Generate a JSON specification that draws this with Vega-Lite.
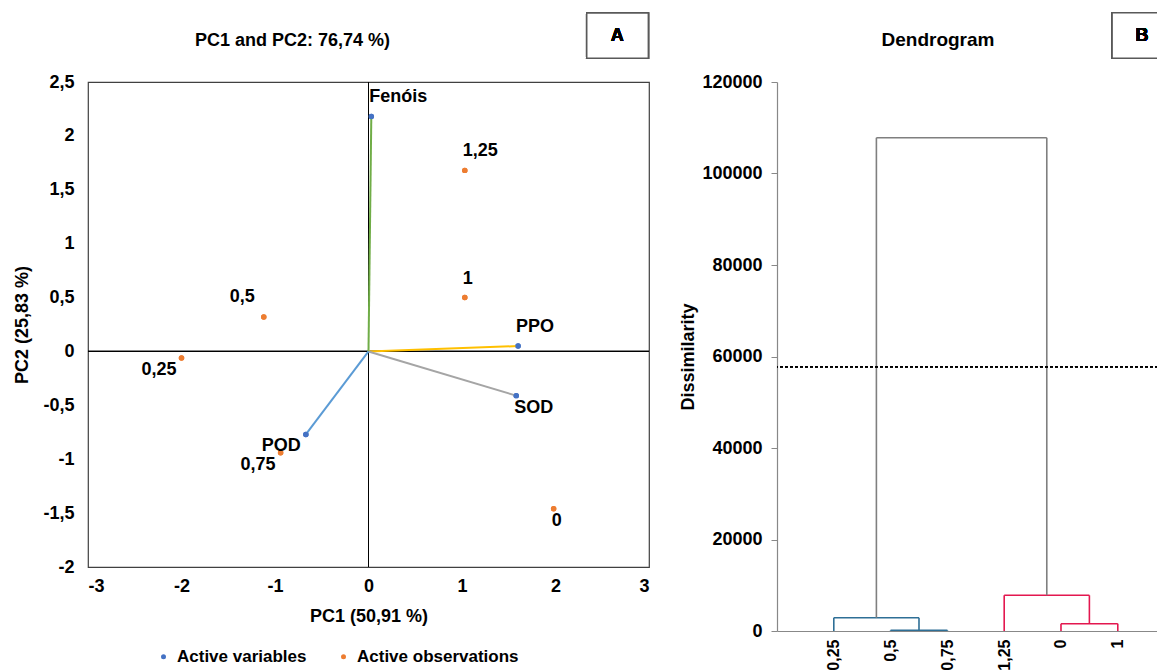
{
  "$schema": "https://vega.github.io/schema/vega-lite/v6.json",
  "padding": {"left": 13, "top": 11, "right": 0, "bottom": 0},
  "spacing": 28,
  "background": "#ffffff",
  "resolve": {"scale": {"color": "independent", "stroke": "independent"}, "legend": {"color": "independent", "stroke": "independent"}},
  "datasets": {
    "pca": [
      {"label": "Fenóis", "kind": "Active variables", "pc1": 0.03, "pc2": 2.18},
      {"label": "PPO", "kind": "Active variables", "pc1": 1.60, "pc2": 0.05},
      {"label": "SOD", "kind": "Active variables", "pc1": 1.58, "pc2": -0.41},
      {"label": "POD", "kind": "Active variables", "pc1": -0.67, "pc2": -0.77},
      {"label": "1,25", "kind": "Active observations", "pc1": 1.03, "pc2": 1.68},
      {"label": "1", "kind": "Active observations", "pc1": 1.03, "pc2": 0.50},
      {"label": "0,5", "kind": "Active observations", "pc1": -1.12, "pc2": 0.32},
      {"label": "0,25", "kind": "Active observations", "pc1": -2.00, "pc2": -0.06},
      {"label": "0,75", "kind": "Active observations", "pc1": -0.94, "pc2": -0.94},
      {"label": "0", "kind": "Active observations", "pc1": 1.98, "pc2": -1.46}
    ],
    "dendro": [
      {"x": 2, "x2": 2, "y": 0, "y2": 150, "grp": "c1"},
      {"x": 3, "x2": 3, "y": 0, "y2": 150, "grp": "c1"},
      {"x": 2, "x2": 3, "y": 150, "y2": 150, "grp": "c1"},
      {"x": 1, "x2": 1, "y": 0, "y2": 2900, "grp": "c1"},
      {"x": 2.5, "x2": 2.5, "y": 150, "y2": 2900, "grp": "c1"},
      {"x": 1, "x2": 2.5, "y": 2900, "y2": 2900, "grp": "c1"},
      {"x": 5, "x2": 5, "y": 0, "y2": 1600, "grp": "c2"},
      {"x": 6, "x2": 6, "y": 0, "y2": 1600, "grp": "c2"},
      {"x": 5, "x2": 6, "y": 1600, "y2": 1600, "grp": "c2"},
      {"x": 4, "x2": 4, "y": 0, "y2": 7800, "grp": "c2"},
      {"x": 5.5, "x2": 5.5, "y": 1600, "y2": 7800, "grp": "c2"},
      {"x": 4, "x2": 5.5, "y": 7800, "y2": 7800, "grp": "c2"},
      {"x": 1.75, "x2": 1.75, "y": 2900, "y2": 107800, "grp": "root"},
      {"x": 4.75, "x2": 4.75, "y": 7800, "y2": 107800, "grp": "root"},
      {"x": 1.75, "x2": 4.75, "y": 107800, "y2": 107800, "grp": "root"}
    ]
  },
  "hconcat": [
    {
      "width": 561,
      "height": 485,
      "view": {"stroke": "#404040", "strokeWidth": 1.2},
      "title": {"text": "PC1 and PC2: 76,74 %)", "anchor": "middle", "frame": "group", "dx": -76, "offset": -47, "baseline": "middle", "fontSize": 18, "fontWeight": "bold", "font": "Liberation Sans", "color": "#000000"},
      "data": {"name": "pca"},
      "layer": [
        {
          "mark": {"type": "circle", "size": 30, "opacity": 1},
          "encoding": {
            "x": {"field": "pc1", "type": "quantitative", "scale": {"domain": [-3, 3], "nice": false, "zero": false},
              "axis": {"title": "PC1 (50,91 %)", "values": [-3, -2, -1, 0, 1, 2, 3], "domain": false, "ticks": false, "tickSize": 0, "grid": false, "labelPadding": 10, "titlePadding": 12, "labelExpr": "replace(toString(datum.value), '.', ',')"}},
            "y": {"field": "pc2", "type": "quantitative", "scale": {"domain": [-2, 2.5], "nice": false, "zero": false},
              "axis": {"title": "PC2 (25,83 %)", "values": [-2, -1.5, -1, -0.5, 0, 0.5, 1, 1.5, 2, 2.5], "domain": false, "ticks": false, "tickSize": 0, "grid": false, "labelPadding": 14, "titlePadding": 11, "labelExpr": "replace(toString(datum.value), '.', ',')"}},
            "color": {"field": "kind", "type": "nominal", "scale": {"domain": ["Active variables", "Active observations"], "range": ["#4472C4", "#ED7D31"]},
              "legend": {"title": null, "orient": "none", "legendX": 67, "legendY": 566, "direction": "horizontal", "symbolType": "circle", "symbolSize": 25, "labelFontSize": 17, "labelFontWeight": "bold", "labelColor": "#000000", "labelFont": "Liberation Sans", "labelLimit": 0, "columnPadding": 28, "labelOffset": 5, "padding": 0}}
          }
        },
        {"mark": {"type": "rule", "color": "#000000", "strokeWidth": 1}, "encoding": {"x": {"datum": 0, "type": "quantitative"}}},
        {"mark": {"type": "rule", "color": "#000000", "strokeWidth": 1}, "encoding": {"y": {"datum": 0, "type": "quantitative"}}},
        {
          "transform": [{"filter": "datum.kind === 'Active variables'"}],
          "mark": {"type": "rule", "strokeWidth": 2},
          "encoding": {
            "x": {"field": "pc1", "type": "quantitative"},
            "y": {"field": "pc2", "type": "quantitative"},
            "x2": {"datum": 0},
            "y2": {"datum": 0},
            "stroke": {"field": "label", "type": "nominal", "scale": {"domain": ["Fenóis", "PPO", "SOD", "POD"], "range": ["#70AD47", "#FFC000", "#A5A5A5", "#5B9BD5"]}, "legend": null}
          }
        },
        {
          "mark": {"type": "circle", "size": 30, "opacity": 1},
          "encoding": {
            "x": {"field": "pc1", "type": "quantitative"},
            "y": {"field": "pc2", "type": "quantitative"},
            "color": {"field": "kind", "type": "nominal"}
          }
        },
        {
          "transform": [{"filter": {"field": "label", "oneOf": ["Fenóis", "1,25", "1", "PPO"]}}],
          "mark": {"type": "text", "align": "left", "baseline": "middle", "dx": -2, "dy": -19, "fontSize": 18, "fontWeight": "bold", "font": "Liberation Sans", "color": "#000000"},
          "encoding": {"x": {"field": "pc1", "type": "quantitative"}, "y": {"field": "pc2", "type": "quantitative"}, "text": {"field": "label"}}
        },
        {
          "transform": [{"filter": {"field": "label", "oneOf": ["SOD"]}}],
          "mark": {"type": "text", "align": "left", "baseline": "middle", "dx": -2, "dy": 12, "fontSize": 18, "fontWeight": "bold", "font": "Liberation Sans", "color": "#000000"},
          "encoding": {"x": {"field": "pc1", "type": "quantitative"}, "y": {"field": "pc2", "type": "quantitative"}, "text": {"field": "label"}}
        },
        {
          "transform": [{"filter": {"field": "label", "oneOf": ["0,5"]}}],
          "mark": {"type": "text", "align": "right", "baseline": "middle", "dx": -9, "dy": -20, "fontSize": 18, "fontWeight": "bold", "font": "Liberation Sans", "color": "#000000"},
          "encoding": {"x": {"field": "pc1", "type": "quantitative"}, "y": {"field": "pc2", "type": "quantitative"}, "text": {"field": "label"}}
        },
        {
          "transform": [{"filter": {"field": "label", "oneOf": ["0,25", "0,75", "POD"]}}],
          "mark": {"type": "text", "align": "right", "baseline": "middle", "dx": -5, "dy": 12, "fontSize": 18, "fontWeight": "bold", "font": "Liberation Sans", "color": "#000000"},
          "encoding": {"x": {"field": "pc1", "type": "quantitative"}, "y": {"field": "pc2", "type": "quantitative"}, "text": {"field": "label"}}
        },
        {
          "transform": [{"filter": {"field": "label", "oneOf": ["0"]}}],
          "mark": {"type": "text", "align": "center", "baseline": "middle", "dx": 3, "dy": 12, "fontSize": 18, "fontWeight": "bold", "font": "Liberation Sans", "color": "#000000"},
          "encoding": {"x": {"field": "pc1", "type": "quantitative"}, "y": {"field": "pc2", "type": "quantitative"}, "text": {"field": "label"}}
        },
        {
          "mark": {"type": "rect", "fill": "#ffffff", "stroke": "#595959", "strokeWidth": 1.5},
          "encoding": {"x": {"datum": 2.334, "type": "quantitative"}, "x2": {"datum": 2.993}, "y": {"datum": 3.14, "type": "quantitative"}, "y2": {"datum": 2.72}}
        },
        {
          "mark": {"type": "text", "text": "A", "align": "center", "baseline": "middle", "fontSize": 18, "fontWeight": "bold", "font": "Liberation Sans", "color": "#000000"},
          "encoding": {"x": {"datum": 2.66, "type": "quantitative"}, "y": {"datum": 2.925, "type": "quantitative"}}
        }
      ]
    },
    {
      "width": 386,
      "height": 549,
      "view": {"stroke": null},
      "title": {"text": "Dendrogram", "anchor": "middle", "frame": "group", "dx": -32, "offset": -47, "baseline": "middle", "fontSize": 19, "fontWeight": "bold", "font": "Liberation Sans", "color": "#000000"},
      "data": {"name": "dendro"},
      "layer": [
        {
          "mark": {"type": "rule", "strokeWidth": 1.6},
          "encoding": {
            "x": {"field": "x", "type": "quantitative", "scale": {"domain": [0, 6.796], "nice": false, "zero": false},
              "axis": {"title": null, "values": [1, 2, 3, 4, 5, 6], "labelExpr": "['', '0,25', '0,5', '0,75', '1,25', '0', '1'][datum.value]", "labelAngle": 270, "labelAlign": "right", "labelBaseline": "middle", "labelPadding": 8, "labelFontSize": 16, "ticks": false, "tickSize": 0, "grid": false, "domainColor": "#888888", "domainWidth": 1.2}},
            "x2": {"field": "x2"},
            "y": {"field": "y", "type": "quantitative", "scale": {"domain": [0, 120000], "nice": false},
              "axis": {"title": "Dissimilarity", "values": [0, 20000, 40000, 60000, 80000, 100000, 120000], "format": "d", "grid": false, "domainColor": "#888888", "domainWidth": 1.2, "tickColor": "#888888", "tickSize": 6, "labelPadding": 9, "titlePadding": 4}},
            "y2": {"field": "y2"},
            "stroke": {"field": "grp", "type": "nominal", "scale": {"domain": ["c1", "c2", "root"], "range": ["#2E6F96", "#E3174F", "#7F7F7F"]}, "legend": null}
          }
        },
        {
          "mark": {"type": "rule", "strokeDash": [3, 2], "color": "#000000", "strokeWidth": 1},
          "encoding": {"y": {"datum": 57770, "type": "quantitative"}}
        },
        {
          "mark": {"type": "rect", "fill": "#ffffff", "stroke": "#595959", "strokeWidth": 1.5},
          "encoding": {"x": {"datum": 5.90, "type": "quantitative"}, "x2": {"datum": 6.796}, "y": {"datum": 135150, "type": "quantitative"}, "y2": {"datum": 125180}}
        },
        {
          "mark": {"type": "text", "text": "B", "align": "center", "baseline": "middle", "fontSize": 18, "fontWeight": "bold", "font": "Liberation Sans", "color": "#000000"},
          "encoding": {"x": {"datum": 6.426, "type": "quantitative"}, "y": {"datum": 130055, "type": "quantitative"}}
        }
      ]
    }
  ],
  "config": {
    "font": "Liberation Sans",
    "axis": {"labelFont": "Liberation Sans", "labelFontSize": 18, "labelFontWeight": "bold", "labelColor": "#000000", "titleFont": "Liberation Sans", "titleFontSize": 18, "titleFontWeight": "bold", "titleColor": "#000000"},
    "text": {"font": "Liberation Sans"}
  }
}
